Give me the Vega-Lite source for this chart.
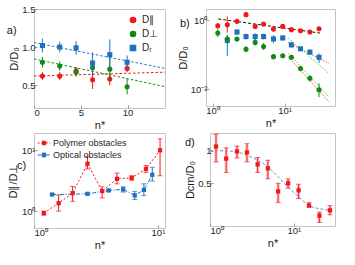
{
"$schema": "https://vega.github.io/schema/vega-lite/v6.json",
"padding": {"left": 6, "top": 3, "right": 0, "bottom": 0},
"background": "white",
"config": {
  "font": "Liberation Sans",
  "view": {"stroke": "#c4c4c4", "strokeWidth": 1},
  "axis": {"domain": false, "grid": false, "ticks": true, "tickSize": -3, "tickColor": "#9a9a9a", "labelFontSize": 9.5, "labelColor": "#262626", "labelPadding": 2, "titleFontSize": 11, "titleFontWeight": "normal", "titleColor": "#1a1a1a"},
  "text": {"font": "Liberation Sans"},
  "legend": {"title": null, "labelColor": "#262626"}
},
"datasets": {
  "a_pts": [
    {"s":"D∥","n":0.9,"D":0.62,"lo":0.57,"hi":0.67},
    {"s":"D∥","n":2.75,"D":0.62,"lo":0.57,"hi":0.67},
    {"s":"D∥","n":4.5,"D":0.69,"lo":0.64,"hi":0.74},
    {"s":"D∥","n":6.26,"D":0.57,"lo":0.45,"hi":0.69},
    {"s":"D∥","n":8.1,"D":0.58,"lo":0.5,"hi":0.66},
    {"s":"D∥","n":9.95,"D":0.72,"lo":0.67,"hi":0.77},
    {"s":"D⊥","n":0.9,"D":0.8,"lo":0.73,"hi":0.87},
    {"s":"D⊥","n":2.75,"D":0.75,"lo":0.69,"hi":0.81},
    {"s":"D⊥","n":4.5,"D":0.67,"lo":0.61,"hi":0.73},
    {"s":"D⊥","n":6.26,"D":0.73,"lo":0.63,"hi":0.83},
    {"s":"D⊥","n":8.1,"D":0.71,"lo":0.56,"hi":0.86},
    {"s":"D⊥","n":9.95,"D":0.48,"lo":0.38,"hi":0.58},
    {"s":"Dᵣ","n":0.9,"D":1.02,"lo":0.93,"hi":1.11},
    {"s":"Dᵣ","n":2.75,"D":1.0,"lo":0.93,"hi":1.07},
    {"s":"Dᵣ","n":4.5,"D":0.99,"lo":0.9,"hi":1.08},
    {"s":"Dᵣ","n":6.26,"D":0.79,"lo":0.65,"hi":0.93},
    {"s":"Dᵣ","n":8.1,"D":0.9,"lo":0.7,"hi":1.1},
    {"s":"Dᵣ","n":9.95,"D":0.8,"lo":0.71,"hi":0.89}
  ],
  "a_fit": [
    {"s":"D∥","n":0,"D":0.62},{"s":"D∥","n":14,"D":0.67},
    {"s":"D⊥","n":0,"D":0.845},{"s":"D⊥","n":14,"D":0.48},
    {"s":"Dᵣ","n":0,"D":1.06},{"s":"Dᵣ","n":14,"D":0.72}
  ],
  "b_pts": [
    {"s":"D∥","n":1.18,"D":0.7,"lo":0.58,"hi":0.84},
    {"s":"D∥","n":1.6,"D":0.75,"lo":0.44,"hi":1.3},
    {"s":"D∥","n":2.18,"D":0.94,"lo":0.8,"hi":1.1},
    {"s":"D∥","n":2.91,"D":1.47,"lo":1.25,"hi":1.7},
    {"s":"D∥","n":3.9,"D":0.67,"lo":0.57,"hi":0.78},
    {"s":"D∥","n":5.1,"D":0.79,"lo":0.68,"hi":0.9},
    {"s":"D∥","n":7.0,"D":0.56,"lo":0.48,"hi":0.65},
    {"s":"D∥","n":9.4,"D":0.67,"lo":0.6,"hi":0.74},
    {"s":"D∥","n":12.4,"D":0.54,"lo":0.49,"hi":0.6},
    {"s":"D∥","n":16.6,"D":0.5,"lo":0.45,"hi":0.55},
    {"s":"D∥","n":22.4,"D":0.46,"lo":0.41,"hi":0.51},
    {"s":"D∥","n":30,"D":0.57,"lo":0.51,"hi":0.63},
    {"s":"Dᵣ","n":1.6,"D":0.26,"lo":0.093,"hi":0.38},
    {"s":"Dᵣ","n":2.18,"D":0.46,"lo":0.38,"hi":0.55},
    {"s":"Dᵣ","n":2.91,"D":0.34,"lo":0.28,"hi":0.41},
    {"s":"Dᵣ","n":3.9,"D":0.34,"lo":0.27,"hi":0.42},
    {"s":"Dᵣ","n":5.1,"D":0.34,"lo":0.28,"hi":0.41},
    {"s":"Dᵣ","n":7.0,"D":0.29,"lo":0.22,"hi":0.37},
    {"s":"Dᵣ","n":9.4,"D":0.31,"lo":0.26,"hi":0.37},
    {"s":"Dᵣ","n":12.4,"D":0.195,"lo":0.16,"hi":0.24},
    {"s":"Dᵣ","n":16.6,"D":0.15,"lo":0.13,"hi":0.17},
    {"s":"Dᵣ","n":22.4,"D":0.12,"lo":0.1,"hi":0.145},
    {"s":"Dᵣ","n":30,"D":0.085,"lo":0.058,"hi":0.11},
    {"s":"D⊥","n":1.18,"D":0.43,"lo":0.33,"hi":0.55},
    {"s":"D⊥","n":1.6,"D":0.29,"lo":0.22,"hi":0.37},
    {"s":"D⊥","n":2.18,"D":0.29,"lo":0.25,"hi":0.33},
    {"s":"D⊥","n":2.91,"D":0.146,"lo":0.12,"hi":0.18},
    {"s":"D⊥","n":3.9,"D":0.23,"lo":0.19,"hi":0.28},
    {"s":"D⊥","n":5.1,"D":0.175,"lo":0.14,"hi":0.22},
    {"s":"D⊥","n":7.0,"D":0.089,"lo":0.075,"hi":0.105},
    {"s":"D⊥","n":9.4,"D":0.094,"lo":0.083,"hi":0.106},
    {"s":"D⊥","n":12.4,"D":0.085,"lo":0.072,"hi":0.1},
    {"s":"D⊥","n":16.6,"D":0.04,"lo":0.034,"hi":0.047},
    {"s":"D⊥","n":22.4,"D":0.021,"lo":0.018,"hi":0.025},
    {"s":"D⊥","n":30,"D":0.0098,"lo":0.006,"hi":0.015}
  ],
  "b_fit": [
    {"model":"power law","target":"D∥","n":1.2,"D":1.1},
    {"model":"power law","target":"D∥","n":31,"D":0.43},
    {"model":"model 1","target":"Dᵣ","n":11.2,"D":0.228},
    {"model":"model 1","target":"Dᵣ","n":41,"D":0.057},
    {"model":"model 2","target":"Dᵣ","n":11.2,"D":0.307},
    {"model":"model 2","target":"Dᵣ","n":41,"D":0.029},
    {"model":"model 2","target":"D⊥","n":11.2,"D":0.112},
    {"model":"model 2","target":"D⊥","n":41,"D":0.0061},
    {"model":"model 1","target":"D⊥","n":11.2,"D":0.089},
    {"model":"model 1","target":"D⊥","n":41,"D":0.0044}
  ],
  "c_pts": [
    {"s":"Polymer obstacles","n":1.2,"R":0.93,"lo":0.86,"hi":1.0},
    {"s":"Polymer obstacles","n":1.58,"R":1.35,"lo":1.0,"hi":1.83},
    {"s":"Polymer obstacles","n":2.05,"R":1.97,"lo":1.45,"hi":2.54},
    {"s":"Polymer obstacles","n":2.7,"R":5.97,"lo":4.9,"hi":7.9},
    {"s":"Polymer obstacles","n":3.55,"R":2.13,"lo":1.65,"hi":2.5},
    {"s":"Polymer obstacles","n":4.67,"R":3.38,"lo":2.8,"hi":4.2},
    {"s":"Polymer obstacles","n":6.14,"R":3.5,"lo":3.2,"hi":3.8},
    {"s":"Polymer obstacles","n":8.0,"R":4.9,"lo":4.3,"hi":5.6},
    {"s":"Polymer obstacles","n":10.4,"R":9.9,"lo":3.8,"hi":15.3},
    {"s":"Optical obstacles","n":1.4,"R":1.87,"lo":1.8,"hi":1.94},
    {"s":"Optical obstacles","n":2.7,"R":1.92,"lo":1.86,"hi":1.98},
    {"s":"Optical obstacles","n":4.0,"R":2.18,"lo":2.1,"hi":2.26},
    {"s":"Optical obstacles","n":5.24,"R":2.27,"lo":2.05,"hi":2.5},
    {"s":"Optical obstacles","n":6.5,"R":1.81,"lo":1.55,"hi":2.1},
    {"s":"Optical obstacles","n":7.7,"R":2.23,"lo":1.8,"hi":2.8},
    {"s":"Optical obstacles","n":9.0,"R":3.94,"lo":3.1,"hi":5.2}
  ],
  "d_pts": [
    {"n":1.18,"D":1.1,"lo":0.79,"hi":1.43},
    {"n":1.56,"D":0.85,"lo":0.63,"hi":1.07},
    {"n":2.1,"D":0.99,"lo":0.86,"hi":1.11},
    {"n":2.76,"D":0.97,"lo":0.79,"hi":1.17},
    {"n":3.7,"D":0.75,"lo":0.63,"hi":0.87},
    {"n":4.9,"D":0.69,"lo":0.55,"hi":0.82},
    {"n":6.5,"D":0.42,"lo":0.33,"hi":0.5},
    {"n":8.55,"D":0.5,"lo":0.45,"hi":0.55},
    {"n":11.4,"D":0.43,"lo":0.36,"hi":0.49},
    {"n":15.2,"D":0.31,"lo":0.3,"hi":0.33},
    {"n":20.2,"D":0.25,"lo":0.216,"hi":0.27},
    {"n":27,"D":0.28,"lo":0.254,"hi":0.31}
  ],
  "d_fit": [
    {"n":1.0,"D":1.015},{"n":1.56,"D":1.0},{"n":2.1,"D":0.98},{"n":2.76,"D":0.91},
    {"n":3.7,"D":0.82},{"n":4.9,"D":0.71},{"n":6.5,"D":0.575},{"n":8.55,"D":0.46},
    {"n":11.4,"D":0.375},{"n":15.2,"D":0.31},{"n":20.2,"D":0.29},{"n":27,"D":0.28}
  ]
},
"bounds": "full",
"spacing": 1,
"resolve": {"scale": {"color": "independent", "shape": "independent", "strokeDash": "independent"}, "legend": {"color": "independent", "shape": "independent", "strokeDash": "independent"}},
"vconcat": [
  {
    "hconcat": [
      {
        "width": 131, "height": 99,
        "layer": [
          {
            "data": {"name": "a_pts"},
            "mark": {"type": "point", "filled": true, "size": 26, "opacity": 1},
            "encoding": {
              "x": {"field": "n", "type": "quantitative", "scale": {"domain": [0, 14], "nice": false}, "axis": {"values": [0, 5, 10], "title": "n*", "titlePadding": 3}},
              "y": {"field": "D", "type": "quantitative", "scale": {"domain": [0.2, 1.5], "nice": false, "zero": false}, "axis": {"values": [0.5, 1, 1.5], "title": "D/D₀", "titlePadding": 2}},
              "color": {"field": "s", "type": "nominal", "scale": {"domain": ["D∥", "D⊥", "Dᵣ"], "range": ["#f21818", "#138a13", "#1f72c2"]}, "legend": {"orient": "top-right", "offset": 4, "padding": 2, "labelFontSize": 10, "symbolSize": 26, "rowPadding": 2, "labelOffset": 4}},
              "shape": {"field": "s", "type": "nominal", "scale": {"domain": ["D∥", "D⊥", "Dᵣ"], "range": ["circle", "circle", "square"]}, "legend": {"orient": "top-right", "offset": 4, "padding": 2, "labelFontSize": 10, "symbolSize": 26, "rowPadding": 2, "labelOffset": 4}}
            }
          },
          {
            "data": {"name": "a_fit"},
            "mark": {"type": "line", "strokeDash": [2.5, 2], "strokeWidth": 1},
            "encoding": {
              "x": {"field": "n", "type": "quantitative"},
              "y": {"field": "D", "type": "quantitative"},
              "color": {"field": "s", "type": "nominal", "legend": null}
            }
          },
          {
            "data": {"name": "a_pts"},
            "mark": {"type": "rule", "strokeWidth": 1},
            "encoding": {
              "x": {"field": "n", "type": "quantitative"},
              "y": {"field": "lo", "type": "quantitative"},
              "y2": {"field": "hi"},
              "color": {"field": "s", "type": "nominal", "legend": null}
            }
          },
          {
            "data": {"values": [{"label": "a)", "n": -2.9, "D": 1.21}]},
            "mark": {"type": "text", "align": "left", "baseline": "middle", "fontSize": 11, "color": "#1a1a1a"},
            "encoding": {
              "x": {"field": "n", "type": "quantitative"},
              "y": {"field": "D", "type": "quantitative"},
              "text": {"field": "label"}
            }
          }
        ]
      },
      {
        "width": 129, "height": 97,
        "layer": [
          {
            "data": {"name": "b_fit"},
            "transform": [{"filter": "datum.model == 'power law'"}],
            "mark": {"type": "line", "strokeDash": [3, 2], "strokeWidth": 1, "color": "#111111"},
            "encoding": {
              "x": {"field": "n", "type": "quantitative", "scale": {"type": "log", "domain": [0.81, 50], "nice": false}, "axis": {"values": [1, 10], "labelExpr": "datum.value == 1 ? '10⁰' : '10¹'", "title": "n*", "titlePadding": 3}},
              "y": {"field": "D", "type": "quantitative", "scale": {"type": "log", "domain": [0.0033, 2.14], "nice": false}, "axis": {"values": [0.01, 1], "labelExpr": "datum.value == 1 ? '10⁰' : '10⁻²'", "title": "D/D₀", "titlePadding": 2}},
              "detail": {"field": "target"}
            }
          },
          {
            "data": {"name": "b_fit"},
            "transform": [{"filter": "datum.model == 'model 1'"}],
            "mark": {"type": "line", "strokeDash": [1.5, 1.5], "strokeWidth": 1, "color": "#ff4040"},
            "encoding": {
              "x": {"field": "n", "type": "quantitative"},
              "y": {"field": "D", "type": "quantitative"},
              "detail": {"field": "target"}
            }
          },
          {
            "data": {"name": "b_fit"},
            "transform": [{"filter": "datum.model == 'model 2'"}],
            "mark": {"type": "line", "strokeDash": [1.5, 1.5], "strokeWidth": 1, "color": "#45e045"},
            "encoding": {
              "x": {"field": "n", "type": "quantitative"},
              "y": {"field": "D", "type": "quantitative"},
              "detail": {"field": "target"}
            }
          },
          {
            "data": {"name": "b_pts"},
            "mark": {"type": "rule", "strokeWidth": 1},
            "encoding": {
              "x": {"field": "n", "type": "quantitative"},
              "y": {"field": "lo", "type": "quantitative"},
              "y2": {"field": "hi"},
              "color": {"field": "s", "type": "nominal", "scale": {"domain": ["D∥", "D⊥", "Dᵣ"], "range": ["#f21818", "#138a13", "#1f72c2"]}, "legend": null}
            }
          },
          {
            "data": {"name": "b_pts"},
            "mark": {"type": "point", "filled": true, "size": 26, "opacity": 1},
            "encoding": {
              "x": {"field": "n", "type": "quantitative"},
              "y": {"field": "D", "type": "quantitative"},
              "color": {"field": "s", "type": "nominal", "legend": null},
              "shape": {"field": "s", "type": "nominal", "scale": {"domain": ["D∥", "D⊥", "Dᵣ"], "range": ["circle", "circle", "square"]}, "legend": null}
            }
          },
          {
            "data": {"values": [{"label": "b)", "n": 0.352, "D": 0.787}]},
            "mark": {"type": "text", "align": "left", "baseline": "middle", "fontSize": 11, "color": "#1a1a1a"},
            "encoding": {
              "x": {"field": "n", "type": "quantitative"},
              "y": {"field": "D", "type": "quantitative"},
              "text": {"field": "label"}
            }
          }
        ]
      }
    ],
    "spacing": 41,
    "bounds": "flush",
    "resolve": {"scale": {"color": "independent", "shape": "independent"}, "legend": {"color": "independent", "shape": "independent"}}
  },
  {
    "hconcat": [
      {
        "width": 131, "height": 95,
        "layer": [
          {
            "data": {"name": "c_pts"},
            "mark": {"type": "line", "strokeWidth": 1},
            "encoding": {
              "x": {"field": "n", "type": "quantitative", "scale": {"type": "log", "domain": [1, 11.4], "nice": false}, "axis": {"values": [1, 10], "labelExpr": "datum.value == 1 ? '10⁰' : '10¹'", "title": "n*", "titlePadding": 3}},
              "y": {"field": "R", "type": "quantitative", "scale": {"type": "log", "domain": [0.53, 19], "nice": false}, "axis": {"values": [1, 10], "labelExpr": "datum.value == 1 ? '10⁰' : '10¹'", "title": "D∥/D⊥", "titlePadding": 3}},
              "color": {"field": "s", "type": "nominal", "scale": {"domain": ["Polymer obstacles", "Optical obstacles"], "range": ["#f21818", "#1f72c2"]}, "legend": {"orient": "top-left", "offset": 2, "padding": 1, "labelFontSize": 9, "rowPadding": 0, "labelOffset": 2, "symbolType": "M-1,0H1M-0.3,-0.3H0.3V0.3H-0.3Z", "symbolSize": 160, "symbolStrokeWidth": 1}},
              "strokeDash": {"field": "s", "type": "nominal", "scale": {"domain": ["Polymer obstacles", "Optical obstacles"], "range": [[2, 2], [4, 1.5, 1, 1.5]]}, "legend": {"orient": "top-left", "offset": 2, "padding": 1, "labelFontSize": 9, "rowPadding": 0, "labelOffset": 2, "symbolType": "M-1,0H1M-0.3,-0.3H0.3V0.3H-0.3Z", "symbolSize": 160, "symbolStrokeWidth": 1}}
            }
          },
          {
            "data": {"name": "c_pts"},
            "mark": {"type": "rule", "strokeWidth": 1},
            "encoding": {
              "x": {"field": "n", "type": "quantitative"},
              "y": {"field": "lo", "type": "quantitative"},
              "y2": {"field": "hi"},
              "color": {"field": "s", "type": "nominal", "legend": null}
            }
          },
          {
            "data": {"name": "c_pts"},
            "mark": {"type": "tick", "orient": "horizontal", "size": 5, "thickness": 1},
            "encoding": {
              "x": {"field": "n", "type": "quantitative"},
              "y": {"field": "lo", "type": "quantitative"},
              "color": {"field": "s", "type": "nominal", "legend": null}
            }
          },
          {
            "data": {"name": "c_pts"},
            "mark": {"type": "tick", "orient": "horizontal", "size": 5, "thickness": 1},
            "encoding": {
              "x": {"field": "n", "type": "quantitative"},
              "y": {"field": "hi", "type": "quantitative"},
              "color": {"field": "s", "type": "nominal", "legend": null}
            }
          },
          {
            "data": {"name": "c_pts"},
            "mark": {"type": "point", "shape": "square", "filled": true, "size": 18, "opacity": 1},
            "encoding": {
              "x": {"field": "n", "type": "quantitative"},
              "y": {"field": "R", "type": "quantitative"},
              "color": {"field": "s", "type": "nominal", "legend": null}
            }
          },
          {
            "data": {"values": [{"label": "c)", "n": 0.73, "R": 5.48}]},
            "mark": {"type": "text", "align": "left", "baseline": "middle", "fontSize": 11, "color": "#1a1a1a"},
            "encoding": {
              "x": {"field": "n", "type": "quantitative"},
              "y": {"field": "R", "type": "quantitative"},
              "text": {"field": "label"}
            }
          }
        ]
      },
      {
        "width": 125, "height": 93,
        "layer": [
          {
            "data": {"name": "d_fit"},
            "mark": {"type": "line", "strokeDash": [3, 2], "strokeWidth": 1, "color": "#5f8fd0", "interpolate": "monotone"},
            "encoding": {
              "x": {"field": "n", "type": "quantitative", "scale": {"type": "log", "domain": [1, 31], "nice": false}, "axis": {"values": [1, 10], "labelExpr": "datum.value == 1 ? '10⁰' : '10¹'", "title": "n*", "titlePadding": 3}},
              "y": {"field": "D", "type": "quantitative", "scale": {"type": "log", "domain": [0.2, 1.47], "nice": false}, "axis": {"values": [0.5, 1, 1.5], "title": "Dcm/D₀", "titlePadding": 2}}
            }
          },
          {
            "data": {"name": "d_pts"},
            "mark": {"type": "rule", "strokeWidth": 3, "color": "#f7a3a3", "opacity": 0.7},
            "encoding": {
              "x": {"field": "n", "type": "quantitative"},
              "y": {"field": "lo", "type": "quantitative"},
              "y2": {"field": "hi"}
            }
          },
          {
            "data": {"name": "d_pts"},
            "mark": {"type": "rule", "strokeWidth": 1, "color": "#f02828"},
            "encoding": {
              "x": {"field": "n", "type": "quantitative"},
              "y": {"field": "lo", "type": "quantitative"},
              "y2": {"field": "hi"}
            }
          },
          {
            "data": {"name": "d_pts"},
            "mark": {"type": "tick", "orient": "horizontal", "size": 5, "thickness": 1, "color": "#f03030"},
            "encoding": {
              "x": {"field": "n", "type": "quantitative"},
              "y": {"field": "lo", "type": "quantitative"}
            }
          },
          {
            "data": {"name": "d_pts"},
            "mark": {"type": "tick", "orient": "horizontal", "size": 5, "thickness": 1, "color": "#f03030"},
            "encoding": {
              "x": {"field": "n", "type": "quantitative"},
              "y": {"field": "hi", "type": "quantitative"}
            }
          },
          {
            "data": {"name": "d_pts"},
            "mark": {"type": "point", "shape": "square", "filled": true, "size": 18, "opacity": 1, "color": "#f21818"},
            "encoding": {
              "x": {"field": "n", "type": "quantitative"},
              "y": {"field": "D", "type": "quantitative"}
            }
          },
          {
            "data": {"values": [{"label": "d)", "n": 0.503, "D": 1.185}]},
            "mark": {"type": "text", "align": "left", "baseline": "middle", "fontSize": 11, "color": "#1a1a1a"},
            "encoding": {
              "x": {"field": "n", "type": "quantitative"},
              "y": {"field": "D", "type": "quantitative"},
              "text": {"field": "label"}
            }
          }
        ]
      }
    ],
    "spacing": 45,
    "bounds": "flush",
    "resolve": {"scale": {"color": "independent", "strokeDash": "independent"}, "legend": {"color": "independent", "strokeDash": "independent"}}
  }
]
}
